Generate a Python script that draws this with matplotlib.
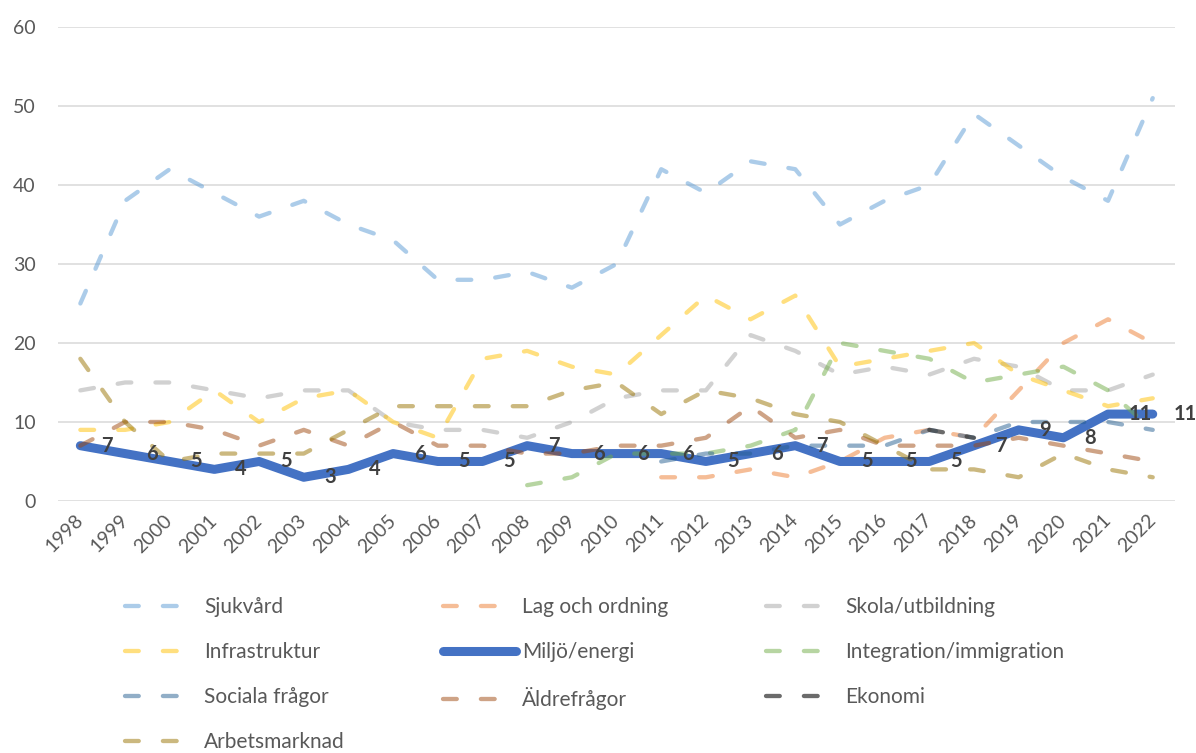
import numpy as np
import matplotlib.pyplot as plt

plt.rcParams['font.family'] = ['Lato', 'DejaVu Sans']

years = [str(y) for y in range(1998, 2023)]
nan = np.nan

sjukvard = [25, 38, 42, 39, 36, 38, 35, 33, 28, 28, 29, 27, 30, 42, 39, 43, 42, 35, 38, 40, 49, 45, 41, 38, 51]
lag_ordning = [nan] * 13 + [3, 3, 4, 3, 5, 8, 9, 8, 14, 20, 23, 20]
skola = [14, 15, 15, 14, 13, 14, 14, 10, 9, 9, 8, 10, 13, 14, 14, 21, 19, 16, 17, 16, 18, 17, 14, 14, 16]
infrastruktur = [9, 9, 10, 14, 10, 13, 14, 10, 8, 18, 19, 17, 16, 21, 26, 23, 26, 17, 18, 19, 20, 16, 14, 12, 13]
miljo = [7, 6, 5, 4, 5, 3, 4, 6, 5, 5, 7, 6, 6, 6, 5, 6, 7, 5, 5, 5, 7, 9, 8, 11, 11]
integration = [nan] * 10 + [2, 3, 6, 6, 6, 7, 9, 20, 19, 18, 15, 16, 17, 14, 9]
sociala = [nan] * 13 + [5, 6, 6, 7, 7, 7, 9, 8, 10, 10, 10, 9]
aldre = [7, 10, 10, 9, 7, 9, 7, 10, 7, 7, 6, 6, 7, 7, 8, 12, 8, 9, 7, 7, 7, 8, 7, 6, 5]
ekonomi = [nan] * 19 + [9, 8] + [nan] * 4
arbetsmarknad = [18, 10, 5, 6, 6, 6, 9, 12, 12, 12, 12, 14, 15, 11, 14, 13, 11, 10, 7, 4, 4, 3, 6, 4, 3]

series = [
    ('Sjukvård', sjukvard, '#5B9BD5'),
    ('Lag och ordning', lag_ordning, '#ED7D31'),
    ('Skola/utbildning', skola, '#A5A5A5'),
    ('Infrastruktur', infrastruktur, '#FFC000'),
    ('Miljö/energi', miljo, '#4472C4'),
    ('Integration/immigration', integration, '#70AD47'),
    ('Sociala frågor', sociala, '#255E91'),
    ('Äldrefrågor', aldre, '#9E480E'),
    ('Ekonomi', ekonomi, '#3A3A3A'),
    ('Arbetsmarknad', arbetsmarknad, '#997300'),
]

fig = plt.figure(figsize=(11.96, 7.53), dpi=100)
ax = fig.add_axes([0.0485, 0.3347, 0.934, 0.6294])

x = np.arange(len(years))
handles = {}
for name, vals, col in series:
    if name == 'Miljö/energi':
        ln, = ax.plot(x, vals, color=col, lw=6.5, solid_capstyle='round',
                      solid_joinstyle='round', label=name, zorder=3)
    else:
        a = 0.75 if name == 'Ekonomi' else 0.5
        ln, = ax.plot(x, vals, color=col, lw=3.1, alpha=a, dashes=(3.2, 5.6),
                      dash_capstyle='round', dash_joinstyle='round', label=name, zorder=3)
    handles[name] = ln

# data labels for Miljö/energi, to the right of each point
for i, v in enumerate(miljo):
    ax.annotate(str(v), (i, v), xytext=(15, 0), textcoords='offset points',
                ha='left', va='center', fontsize=14.5, fontweight='bold',
                color='#404040', zorder=5)

ax.set_xlim(-0.5, len(years) - 0.5)
ax.set_ylim(0, 60)
ax.set_yticks(range(0, 61, 10))
ax.set_xticks(x)
ax.set_xticklabels(years, rotation=45, ha='right', va='center', rotation_mode='anchor')
ax.tick_params(axis='both', length=0, labelsize=14, labelcolor='#595959')
ax.tick_params(axis='y', pad=16)
ax.tick_params(axis='x', pad=12)
ax.grid(axis='y', color='#D9D9D9', lw=1.1)
ax.set_axisbelow(True)
for s in ax.spines.values():
    s.set_visible(False)

# matplotlib fills legend columns first, so reorder to get Excel's row order
order = ['Sjukvård', 'Infrastruktur', 'Sociala frågor', 'Arbetsmarknad',
         'Lag och ordning', 'Miljö/energi', 'Äldrefrågor',
         'Skola/utbildning', 'Integration/immigration', 'Ekonomi']
leg = fig.legend([handles[n] for n in order], order, ncol=3, frameon=False,
                 loc='upper left', bbox_to_anchor=(0.1045, 1 - 597 / 753),
                 fontsize=15, handlelength=3.5, handletextpad=0.3,
                 columnspacing=4.7, labelspacing=1.2, borderpad=0, borderaxespad=0)
for t in leg.get_texts():
    t.set_color('#595959')

fig.savefig('out.png', dpi=100)
